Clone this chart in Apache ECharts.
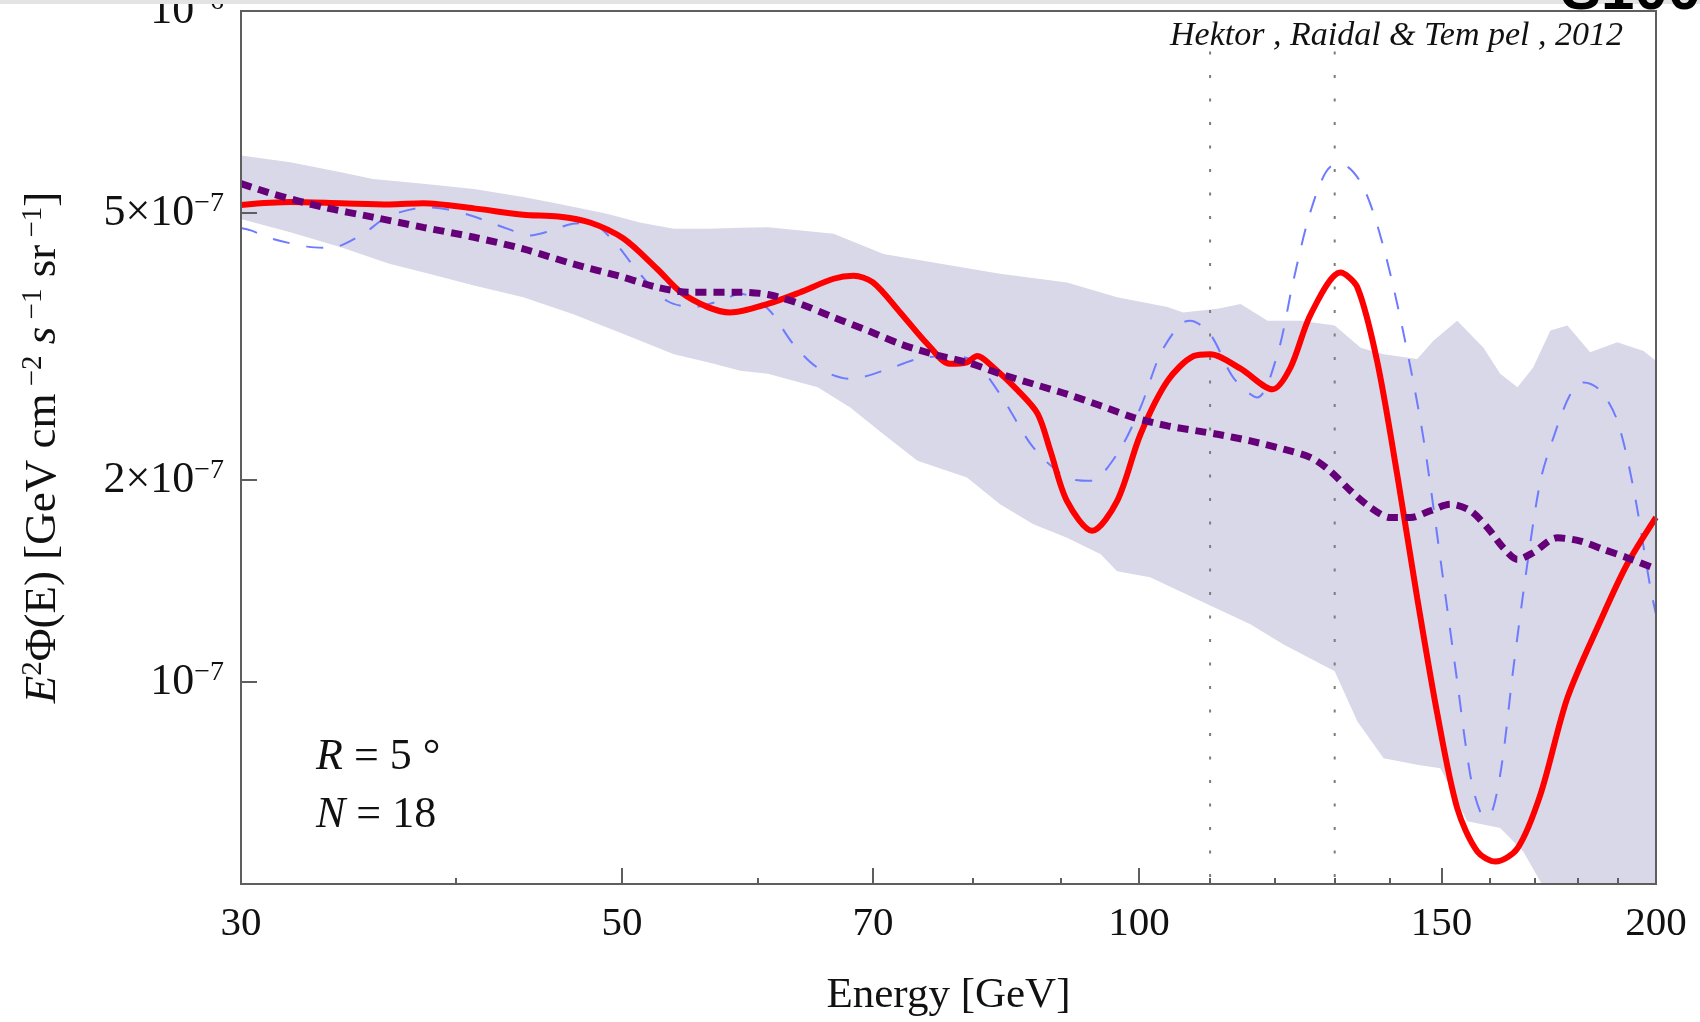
<!DOCTYPE html>
<html><head><meta charset="utf-8">
<script src="https://cdn.jsdelivr.net/npm/echarts@6/dist/echarts.min.js"></script>
<style>html,body{margin:0;padding:0;background:#fff;}#c{width:1700px;height:1022px;}</style>
</head><body><div id="c"></div>
<script>
// ---- data (energy in GeV, flux E^2 Phi in GeV cm^-2 s^-1 sr^-1) ----
const xRange = [30, 200];
const yRange = [5e-8, 1e-6];
const xMajorTicks = [30, 50, 70, 100, 150, 200];
const xMinorTicks = [40, 60, 80, 90, 110, 120, 130, 140, 160, 170, 180, 190];
const yTickValues = [1e-6, 5e-7, 2e-7, 1e-7];
const yTickMantissa = ['', '5×', '2×', ''];
const yTickExponent = ['−6', '−7', '−7', '−7'];
const markerEnergies = [110, 130];
const markerSpan = [8.7e-7, 5e-8];

const bandUpper = [
  [30, 6.09e-7],[32.05, 5.95e-7],[34.3, 5.75e-7],[35.8, 5.62e-7],[38.3, 5.53e-7],[41.0, 5.43e-7],
  [43.8, 5.28e-7],[45.9, 5.16e-7],[49.0, 4.985e-7],[51.2, 4.84e-7],[53.6, 4.735e-7],[56.1, 4.735e-7],
  [58.6, 4.755e-7],[60.8, 4.76e-7],[66.4, 4.655e-7],[71.0, 4.345e-7],[75.9, 4.22e-7],[83.0, 4.06e-7],
  [90.8, 3.94e-7],[97.1, 3.745e-7],[103.9, 3.62e-7],[106.1, 3.555e-7],[111.1, 3.60e-7],[114.6, 3.66e-7],
  [118.8, 3.455e-7],[124.2, 3.455e-7],[130, 3.40e-7],[134.6, 3.15e-7],[138.8, 3.08e-7],[145.2, 3.03e-7],
  [148.4, 3.225e-7],[153.2, 3.455e-7],[158.7, 3.15e-7],[162.3, 2.88e-7],[166.1, 2.75e-7],[169.6, 2.94e-7],
  [173.6, 3.34e-7],[177.6, 3.40e-7],[183.1, 3.10e-7],[189.9, 3.21e-7],[196.7, 3.115e-7],[200, 3.01e-7]
];
const bandLower = [
  [30, 4.90e-7],[32.05, 4.68e-7],[34.3, 4.445e-7],[36.6, 4.20e-7],[38.3, 4.08e-7],[41.0, 3.90e-7],
  [43.8, 3.745e-7],[46.8, 3.535e-7],[50.1, 3.30e-7],[53.6, 3.08e-7],[56.1, 2.995e-7],[58.6, 2.91e-7],
  [60.8, 2.88e-7],[65.0, 2.75e-7],[67.9, 2.565e-7],[71.0, 2.34e-7],[74.3, 2.137e-7],[79.4, 2.017e-7],
  [83.0, 1.84e-7],[86.8, 1.718e-7],[90.8, 1.64e-7],[95.0, 1.55e-7],[97.1, 1.463e-7],[101.5, 1.433e-7],
  [108.6, 1.32e-7],[116.1, 1.219e-7],[121.4, 1.137e-7],[130, 1.038e-7],[134.0, 8.74e-8],[138.8, 7.70e-8],
  [145.2, 7.53e-8],[149.8, 7.44e-8],[155.3, 6.20e-8],[162.3, 6.06e-8],[167.4, 5.59e-8],[171.3, 5.04e-8],
  [175, 4.6e-8],[185, 4.4e-8],[200, 4.3e-8]
];
const blueLine = [
  [30, 4.75e-7],[30.4, 4.71e-7],[31.3, 4.575e-7],[32.8, 4.455e-7],[33.8, 4.435e-7],[35.35, 4.655e-7],
  [36.2, 4.87e-7],[37.1, 5.01e-7],[38.5, 5.10e-7],[39.6, 5.06e-7],[41.0, 4.94e-7],[42.9, 4.735e-7],
  [44.2, 4.63e-7],[45.4, 4.70e-7],[46.8, 4.82e-7],[47.9, 4.83e-7],[49.4, 4.55e-7],[51.2, 4.06e-7],
  [53.1, 3.70e-7],[55.0, 3.62e-7],[57.05, 3.70e-7],[58.6, 3.79e-7],[60.8, 3.60e-7],[62.9, 3.19e-7],
  [65.0, 2.94e-7],[67.9, 2.83e-7],[71.0, 2.91e-7],[74.3, 3.03e-7],[77.6, 3.06e-7],[80.1, 3.01e-7],
  [83.0, 2.685e-7],[86.8, 2.235e-7],[90.8, 2.017e-7],[93.7, 1.995e-7],[97.1, 2.185e-7],[100.2, 2.565e-7],
  [102.9, 3.08e-7],[105.7, 3.415e-7],[107.1, 3.455e-7],[110.0, 3.30e-7],[113.5, 2.84e-7],[117.2, 2.655e-7],
  [120.4, 3.08e-7],[123.0, 3.965e-7],[125.9, 5.04e-7],[129.2, 5.855e-7],[131.5, 5.89e-7],[135.1, 5.46e-7],
  [138.8, 4.445e-7],[142.6, 3.30e-7],[146.4, 2.313e-7],[150.4, 1.414e-7],[153.2, 1.003e-7],[155.9, 7.28e-8],
  [158.0, 6.41e-8],[159.7, 6.30e-8],[162.3, 7.28e-8],[165.2, 1.05e-7],[168.3, 1.498e-7],[171.3, 1.995e-7],
  [174.3, 2.313e-7],[178.3, 2.685e-7],[181.5, 2.795e-7],[185.6, 2.72e-7],[189.9, 2.45e-7],[194.0, 1.95e-7],
  [198.5, 1.382e-7],[200, 1.262e-7]
];
const redLine = [
  [30, 5.14e-7],[32.05, 5.19e-7],[34.3, 5.17e-7],[36.6, 5.15e-7],[38.3, 5.17e-7],[41.0, 5.08e-7],
  [43.8, 4.97e-7],[45.9, 4.94e-7],[47.9, 4.84e-7],[50.1, 4.58e-7],[52.4, 4.13e-7],[54.1, 3.81e-7],
  [56.1, 3.62e-7],[57.8, 3.555e-7],[60.8, 3.66e-7],[63.5, 3.81e-7],[66.4, 3.99e-7],[68.2, 4.03e-7],
  [70.0, 3.94e-7],[72.6, 3.555e-7],[75.3, 3.19e-7],[77.6, 2.98e-7],[79.4, 2.995e-7],[80.5, 3.06e-7],
  [82.3, 2.94e-7],[85.0, 2.72e-7],[87.3, 2.51e-7],[88.8, 2.21e-7],[90.8, 1.86e-7],[93.9, 1.68e-7],
  [97.1, 1.86e-7],[100.2, 2.34e-7],[103.9, 2.81e-7],[107.6, 3.06e-7],[110.0, 3.08e-7],[114.6, 2.93e-7],
  [119.6, 2.73e-7],[122.5, 2.94e-7],[125.9, 3.535e-7],[131.0, 4.075e-7],[134.0, 3.875e-7],[137.6, 3.01e-7],
  [141.4, 2.03e-7],[145.2, 1.335e-7],[149.2, 8.94e-8],[153.2, 6.49e-8],[157.4, 5.59e-8],[161.3, 5.40e-8],
  [166.1, 5.65e-8],[171.3, 6.80e-8],[177.6, 9.47e-8],[185.6, 1.232e-7],[192.4, 1.498e-7],[200, 1.76e-7]
];
const purpleLine = [
  [30, 5.53e-7],[31.3, 5.34e-7],[33.5, 5.10e-7],[35.8, 4.93e-7],[38.3, 4.76e-7],[41.0, 4.60e-7],
  [43.8, 4.42e-7],[46.8, 4.20e-7],[50.1, 4.01e-7],[52.4, 3.875e-7],[54.8, 3.81e-7],[58.6, 3.81e-7],
  [60.8, 3.78e-7],[63.5, 3.66e-7],[66.4, 3.495e-7],[69.5, 3.34e-7],[72.6, 3.19e-7],[75.9, 3.08e-7],
  [79.4, 2.995e-7],[83.0, 2.88e-7],[86.8, 2.78e-7],[90.8, 2.685e-7],[95.0, 2.58e-7],[99.3, 2.478e-7],
  [103.9, 2.408e-7],[108.1, 2.367e-7],[111.1, 2.34e-7],[116.1, 2.287e-7],[121.4, 2.223e-7],[125.9, 2.16e-7],
  [129.2, 2.063e-7],[132.8, 1.927e-7],[136.4, 1.82e-7],[140.1, 1.758e-7],[143.9, 1.758e-7],[147.8, 1.80e-7],
  [151.8, 1.84e-7],[155.9, 1.80e-7],[159.5, 1.70e-7],[163.0, 1.585e-7],[166.1, 1.523e-7],[169.6, 1.558e-7],
  [175.2, 1.64e-7],[180.7, 1.622e-7],[186.4, 1.576e-7],[192.4, 1.532e-7],[200, 1.474e-7]
];

// ---- chart ----
const L = Math.log10;
const toLog = pts => pts.map(p => [L(p[0]), L(p[1])]);
const SERIF = '"Liberation Serif", "DejaVu Serif", serif';
const axisColor = '#5e5e5e';

const chart = echarts.init(document.getElementById('c'), null, {renderer: 'canvas'});

const markerSeries = markerEnergies.map(e => ({
  type: 'line', z: 2, silent: true, symbol: 'none', animation: false,
  data: [[L(e), L(markerSpan[0])], [L(e), L(markerSpan[1])]],
  lineStyle: {color: '#7c7c7c', width: 2, type: [3, 20.5]}
}));

const option = {
  animation: false,
  backgroundColor: '#fff',
  grid: {left: 241, right: 44, top: 11, bottom: 138, show: true, borderColor: axisColor, borderWidth: 2,
         backgroundColor: 'transparent', containLabel: false, outerBoundsMode: 'none', z: 10},
  xAxis: [{
    type: 'value', min: L(xRange[0]), max: L(xRange[1]), position: 'bottom', z: 10,
    axisLine: {show: true, lineStyle: {color: axisColor, width: 2}},
    axisTick: {show: true, inside: true, length: 16, lineStyle: {color: axisColor, width: 2},
               customValues: xMajorTicks.map(L)},
    axisLabel: {show: true, customValues: xMajorTicks.map(L), margin: 20,
                formatter: v => String(Math.round(Math.pow(10, v))),
                fontFamily: SERIF, fontSize: 41, color: '#111'},
    splitLine: {show: false},
    name: 'Energy [GeV]', nameLocation: 'middle', nameGap: 90,
    nameTextStyle: {fontFamily: SERIF, fontSize: 43, color: '#111'}
  }, {
    type: 'value', min: L(xRange[0]), max: L(xRange[1]), position: 'bottom', z: 10,
    axisLine: {show: false},
    axisTick: {show: true, inside: true, length: 6, lineStyle: {color: axisColor, width: 2},
               customValues: xMinorTicks.map(L)},
    axisLabel: {show: false},
    splitLine: {show: false}
  }],
  yAxis: [{
    type: 'value', min: L(yRange[0]), max: L(yRange[1]), z: 10,
    axisLine: {show: true, lineStyle: {color: axisColor, width: 2}},
    axisTick: {show: true, inside: true, length: 16, lineStyle: {color: axisColor, width: 2},
               customValues: yTickValues.map(L)},
    axisLabel: {show: true, customValues: yTickValues.map(L), margin: 17,
      formatter: v => {
        const i = yTickValues.findIndex(t => Math.abs(L(t) - v) < 1e-6);
        return '{m|' + yTickMantissa[i] + '10}{s|' + yTickExponent[i] + '}';
      },
      rich: {
        m: {fontFamily: SERIF, fontSize: 44, color: '#111', lineHeight: 46},
        s: {fontFamily: SERIF, fontSize: 28, color: '#111', lineHeight: 28, verticalAlign: 'top'}
      }
    },
    splitLine: {show: false},
    name: '{i|E}{s|2}Φ(E) [GeV cm{s| −2} {i|s}{s| −1} sr{s| −1}]',
    nameLocation: 'middle', nameGap: 174, nameRotate: 90,
    nameTextStyle: {fontFamily: SERIF, fontSize: 45, color: '#111', lineHeight: 48,
      rich: {
        i: {fontFamily: SERIF, fontSize: 45, fontStyle: 'italic', color: '#111', lineHeight: 48},
        s: {fontFamily: SERIF, fontSize: 29, color: '#111', lineHeight: 29, verticalAlign: 'top'}
      }
    }
  }],
  series: [
    {
      type: 'custom', name: 'band', z: 1, silent: true, clip: true,
      data: [[L(bandUpper[0][0]), L(bandUpper[0][1])]],
      renderItem: (params, api) => {
        const pts = [];
        bandUpper.forEach(p => pts.push(api.coord([L(p[0]), L(p[1])])));
        bandLower.slice().reverse().forEach(p => pts.push(api.coord([L(p[0]), L(p[1])])));
        const cs = params.coordSys;
        return {
          type: 'polygon', shape: {points: pts}, style: {fill: '#d8d8e8', stroke: null},
          clipPath: {type: 'rect', shape: {x: cs.x, y: cs.y, width: cs.width, height: cs.height}}
        };
      }
    },
    ...markerSeries,
    {
      type: 'line', name: 'dashed', z: 3, symbol: 'none', smooth: 0.3, data: toLog(blueLine),
      lineStyle: {color: '#6e7bff', width: 2, type: [17, 17]}
    },
    {
      type: 'line', name: 'solid', z: 4, symbol: 'none', smooth: 0.3, data: toLog(redLine),
      lineStyle: {color: '#ff0000', width: 6}
    },
    {
      type: 'line', name: 'dotted', z: 5, symbol: 'none', smooth: 0.3, data: toLog(purpleLine),
      lineStyle: {color: '#650078', width: 7, type: [11, 7], cap: 'butt'}
    }
  ],
  graphic: [
    {type: 'rect', z: 50, shape: {x: 0, y: 0, width: 1700, height: 4}, style: {fill: '#e3e3e3'}},
    {type: 'text', z: 60, style: {text: 'S100', x: 1561, y: -8, fontFamily: 'Liberation Sans', fontWeight: 'bold',
      fontSize: 60, fill: '#000', align: 'left', verticalAlign: 'middle'}},
    {type: 'text', z: 60, style: {text: 'Hektor , Raidal & Tem pel , 2012', x: 1623, y: 36,
      fontFamily: SERIF, fontStyle: 'italic', fontSize: 34, fill: '#111', align: 'right', verticalAlign: 'middle'}},
    {type: 'text', z: 60, style: {text: '{i|R} = 5 °', x: 316, y: 757, fontFamily: SERIF, fontSize: 44, fill: '#111',
      align: 'left', verticalAlign: 'middle',
      rich: {i: {fontFamily: SERIF, fontSize: 44, fontStyle: 'italic', fill: '#111'}}}},
    {type: 'text', z: 60, style: {text: '{i|N} = 18', x: 316, y: 815, fontFamily: SERIF, fontSize: 44, fill: '#111',
      align: 'left', verticalAlign: 'middle',
      rich: {i: {fontFamily: SERIF, fontSize: 44, fontStyle: 'italic', fill: '#111'}}}}
  ]
};
chart.setOption(option);
</script></body></html>
